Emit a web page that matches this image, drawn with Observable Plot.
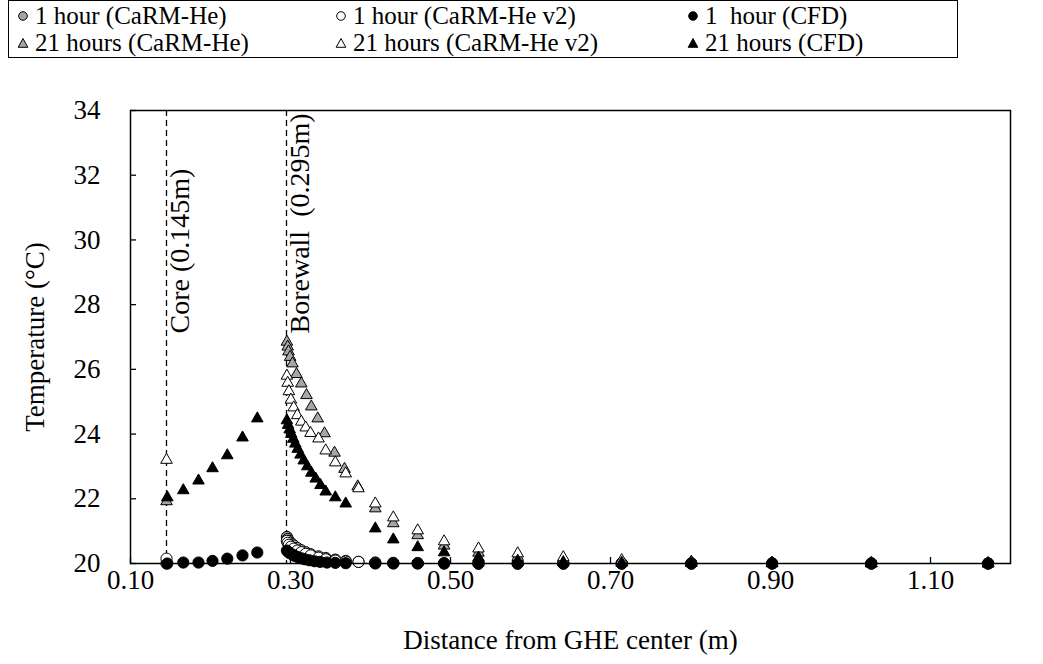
<!DOCTYPE html>
<html><head><meta charset="utf-8">
<script src="https://cdn.jsdelivr.net/npm/d3@7"></script>
<script src="https://cdn.jsdelivr.net/npm/@observablehq/plot@0.6"></script>
<style>
html,body{margin:0;padding:0;background:#fff;}
body{font-family:"Liberation Serif","Times New Roman","DejaVu Serif",serif;color:#000;width:1043px;}
#legend{position:relative;height:64px;}
#legend .box{position:absolute;left:8px;top:0px;width:950px;border:1.5px solid #000;box-sizing:border-box;
  display:grid;grid-template-columns:318px 352px auto;font-size:25px;line-height:27px;padding:1px 0 1px 8px;
  font-family:"Liberation Serif","Times New Roman",serif;}
#legend .item{white-space:pre;display:flex;align-items:center;height:27px;}
#legend svg{margin-right:6px;flex:none;}
</style></head><body>
<div id="legend"></div>
<div id="chart"></div>
<script>
// ---- axis / annotation values ----
const xTicks = [0.10, 0.30, 0.50, 0.70, 0.90, 1.10];
const yTicks = [20, 22, 24, 26, 28, 30, 32, 34];
const xDomain = [0.1, 1.2];
const yDomain = [20, 34];
const lineX = [0.145, 0.295];
const lineLabels = ["Core (0.145m)", "Borewall  (0.295m)"];
const xTitle = "Distance from GHE center (m)";
const yTitle = "Temperature (°C)";

// ---- series names ----
const seriesNames = ["1 hour (CaRM-He)", "1 hour (CaRM-He v2)", "1  hour (CFD)",
                     "21 hours (CaRM-He)", "21 hours (CaRM-He v2)", "21 hours (CFD)"];

// ---- 1 hour (CaRM-He) ----
const h1CarmX = [0.145, 0.2955, 0.2965, 0.298, 0.3005, 0.304, 0.3085, 0.3135, 0.319, 0.325, 0.335, 0.344, 0.356, 0.369, 0.385,
                 0.406, 0.4285, 0.459, 0.492, 0.535, 0.584, 0.641, 0.714, 0.801, 0.902, 1.026, 1.172];
const h1CarmT = [20.0, 20.82, 20.76, 20.7, 20.63, 20.56, 20.48, 20.41, 20.35, 20.29, 20.22, 20.17, 20.12, 20.08, 20.05,
                 20.03, 20.02, 20.01, 20.01, 20.0, 20.0, 20.0, 20.0, 20.0, 20.0, 20.0, 20.0];
// ---- 1 hour (CaRM-He v2) ----
const h1V2X = [0.145, 0.2955, 0.2965, 0.298, 0.3005, 0.304, 0.3085, 0.3135, 0.319, 0.325, 0.335, 0.344, 0.356, 0.369, 0.385,
               0.406, 0.4285, 0.459, 0.492, 0.535, 0.584, 0.641, 0.714, 0.801, 0.902, 1.026, 1.172];
const h1V2T = [20.15, 20.7, 20.64, 20.58, 20.52, 20.46, 20.4, 20.35, 20.3, 20.25, 20.18, 20.13, 20.09, 20.06, 20.05,
               20.02, 20.01, 20.01, 20.0, 20.0, 20.0, 20.0, 20.0, 20.0, 20.0, 20.0, 20.0];
// ---- 1 hour (CFD) ----
const h1CfdX = [0.146, 0.166, 0.185, 0.2025, 0.221, 0.24, 0.2585,
                0.2955, 0.297, 0.299, 0.302, 0.305, 0.309, 0.3135, 0.318, 0.3235, 0.33, 0.337, 0.3455, 0.356, 0.369,
                0.406, 0.4285, 0.459, 0.492, 0.535, 0.584, 0.641, 0.714, 0.801, 0.902, 1.026, 1.172];
const h1CfdT = [20.0, 20.03, 20.03, 20.08, 20.15, 20.25, 20.34,
                20.4, 20.36, 20.32, 20.28, 20.24, 20.2, 20.16, 20.13, 20.1, 20.07, 20.05, 20.03, 20.02, 20.01,
                20.0, 20.0, 20.0, 20.0, 20.0, 20.0, 20.0, 20.0, 20.0, 20.0, 20.0, 20.0];
// ---- 21 hours (CaRM-He) ----
const h21CarmX = [0.145, 0.2955, 0.2965, 0.2975, 0.2995, 0.3025, 0.3075, 0.3135, 0.32, 0.326, 0.334, 0.3425, 0.355, 0.3675, 0.384,
                  0.406, 0.4285, 0.459, 0.492, 0.535, 0.584, 0.641, 0.714, 0.801, 0.902, 1.026, 1.172];
const h21CarmT = [21.92, 26.85, 26.7, 26.55, 26.38, 26.18, 25.85, 25.56, 25.2, 24.85, 24.48, 24.02, 23.42, 22.92, 22.38,
                  21.7, 21.24, 20.87, 20.55, 20.33, 20.2, 20.11, 20.05, 20.02, 20.01, 20.0, 20.0];
// ---- 21 hours (CaRM-He v2) ----
const h21V2X = [0.145, 0.2955, 0.2965, 0.298, 0.3005, 0.304, 0.3085, 0.3135, 0.319, 0.325, 0.335, 0.344, 0.356, 0.369, 0.385,
                0.406, 0.4285, 0.459, 0.492, 0.535, 0.584, 0.641, 0.714, 0.801, 0.902, 1.026, 1.172];
const h21V2T = [23.2, 25.8, 25.58, 25.32, 25.06, 24.82, 24.58, 24.38, 24.2, 24.03, 23.86, 23.49, 23.12, 22.78, 22.32,
                21.85, 21.42, 21.02, 20.68, 20.46, 20.31, 20.19, 20.1, 20.05, 20.02, 20.01, 20.0];
// ---- 21 hours (CFD) ----
const h21CfdX = [0.146, 0.166, 0.185, 0.2025, 0.221, 0.24, 0.2585,
                 0.2955, 0.297, 0.299, 0.301, 0.3035, 0.306, 0.309, 0.3125, 0.3165, 0.321, 0.326, 0.3315, 0.3375, 0.344, 0.356, 0.369,
                 0.406, 0.4285, 0.459, 0.492, 0.535, 0.584, 0.641, 0.714, 0.801, 0.902, 1.026, 1.172];
const h21CfdT = [22.04, 22.26, 22.56, 22.94, 23.34, 23.89, 24.48,
                 24.42, 24.28, 24.14, 24.0, 23.85, 23.7, 23.54, 23.36, 23.18, 23.0, 22.8, 22.62, 22.42, 22.22, 22.04, 21.85,
                 21.08, 20.74, 20.5, 20.34, 20.18, 20.08, 20.04, 20.02, 20.01, 20.0, 20.0, 20.0];

// ---- styles (separate from data) ----
const seriesSymbols = ["circle", "circle", "circle", "triangle", "triangle", "triangle"];
const seriesFills = ["#a6a6a6", "#ffffff", "#000000", "#a6a6a6", "#ffffff", "#000000"];
const serif = '"Liberation Serif", "Times New Roman", serif';

const seriesX = [h1CarmX, h1V2X, h1CfdX, h21CarmX, h21V2X, h21CfdX];
const seriesT = [h1CarmT, h1V2T, h1CfdT, h21CarmT, h21V2T, h21CfdT];

// ---- legend ----
const legend = document.getElementById("legend");
const box = document.createElement("div");
box.className = "box";
seriesNames.forEach((name, i) => {
  const item = document.createElement("div");
  item.className = "item";
  const shape = seriesSymbols[i] === "circle"
    ? `<circle cx="6" cy="6" r="4.3" fill="${seriesFills[i]}" stroke="#000" stroke-width="1"/>`
    : `<path d="M6 1.5 L10.8 10.3 L1.2 10.3 Z" fill="${seriesFills[i]}" stroke="#000" stroke-width="1"/>`;
  item.innerHTML = `<svg width="12" height="12">${shape}</svg>`;
  const span = document.createElement("span");
  span.textContent = name;
  item.appendChild(span);
  box.appendChild(item);
});
legend.appendChild(box);

// ---- chart ----
const W = 1043, H = 600;
const mL = 130, mR = 33, mT = 46, mB = 101;
const innerW = W - mL - mR, innerH = H - mT - mB;

const dotMarks = seriesNames.map((name, i) => {
  const rows = seriesX[i].map((x, j) => ({x, t: seriesT[i][j]}));
  const tri = seriesSymbols[i] === "triangle";
  return Plot.dot(rows, {x: "x", y: "t", symbol: seriesSymbols[i], r: tri ? 4.3 : 5.6,
    fill: seriesFills[i], stroke: "black", strokeWidth: 1});
});

const chart = Plot.plot({
  width: W, height: H,
  marginLeft: mL, marginRight: mR, marginTop: mT, marginBottom: mB,
  style: {fontFamily: serif, fontSize: "27px", background: "white", color: "black", overflow: "visible"},
  x: {domain: xDomain, ticks: xTicks},
  y: {domain: yDomain, ticks: yTicks},
  marks: [
    Plot.ruleX(lineX, {x: d => d, stroke: "black", strokeWidth: 1.3, strokeDasharray: "6,4"}),
    Plot.tickY(yTicks, {y: d => d, insetRight: innerW - 6, stroke: "black", strokeWidth: 1.3}),
    Plot.tickX(xTicks, {x: d => d, insetTop: innerH - 6, stroke: "black", strokeWidth: 1.3}),
    Plot.axisX({ticks: xTicks, tickSize: 0, tickPadding: 6, tickFormat: d3.format(".2f"), label: null, fontSize: 27, fontFamily: serif}),
    Plot.axisY({ticks: yTicks, tickSize: 0, tickPadding: 30, label: null, fontSize: 27, fontFamily: serif}),
    Plot.text(lineLabels, {x: (d, i) => lineX[i], text: d => d, frameAnchor: "bottom", dx: 14, dy: -230,
      rotate: -90, textAnchor: "start", lineAnchor: "middle", fontSize: 28, fontFamily: serif, fill: "black"}),
    Plot.text([xTitle], {text: d => d, frameAnchor: "bottom", dy: 77, lineAnchor: "middle", textAnchor: "middle",
      fontSize: 27, fontFamily: serif, fill: "black"}),
    Plot.text([yTitle], {text: d => d, frameAnchor: "left", dx: -95, rotate: -90, textAnchor: "middle", lineAnchor: "middle",
      fontSize: 27, fontFamily: serif, fill: "black"}),
    ...dotMarks,
    Plot.frame({stroke: "black", strokeWidth: 1.5})
  ]
});
document.getElementById("chart").appendChild(chart);
</script>
</body></html>
